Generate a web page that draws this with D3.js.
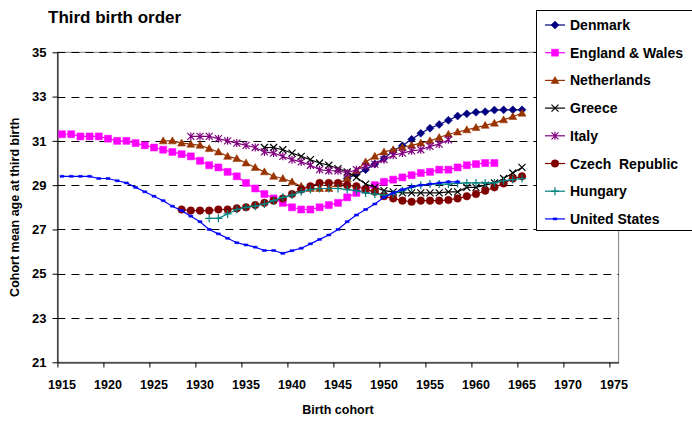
<!DOCTYPE html>
<html><head><meta charset="utf-8">
<script src="https://cdn.jsdelivr.net/npm/d3@7/dist/d3.min.js"></script>
<style>
body{margin:0;background:#fff}
text{font-family:"Liberation Sans",Arial,sans-serif;font-weight:bold;fill:#000}
</style>
</head><body>
<svg id="c" width="692" height="421"></svg>
<script>
// ---------- data ----------
const title = "Third birth order";
const xTitle = "Birth cohort";
const yTitle = "Cohort mean age at third birth";
const yTicks = [21, 23, 25, 27, 29, 31, 33, 35];
const xLabels = [1915, 1920, 1925, 1930, 1935, 1940, 1945, 1950, 1955, 1960, 1965, 1970, 1975];
const seriesNames = ["Denmark", "England & Wales", "Netherlands", "Greece", "Italy", "Czech  Republic", "Hungary", "United States"];
const seriesColors = ["#000080", "#FF00FF", "#993300", "#000000", "#800080", "#800000", "#008080", "#0000FF"];
const seriesMarkers = ["diamond", "square", "triangle", "x", "asterisk", "circle", "plus", "dash"];
const startYears = [1946, 1915, 1926, 1937, 1929, 1928, 1931, 1915];

const denmark = [29.3, 29.5, 29.7, 29.95, 30.2, 30.55, 30.78, 31.07, 31.34, 31.57, 31.74, 31.93, 32.12, 32.22, 32.29, 32.32, 32.39, 32.4, 32.4, 32.4];
const englandWales = [31.3, 31.3, 31.2, 31.2, 31.2, 31.1, 31.0, 31.0, 30.9, 30.8, 30.7, 30.6, 30.5, 30.4, 30.3, 30.1, 29.9, 29.8, 29.6, 29.4, 29.1, 28.85, 28.6, 28.4, 28.2, 28.0, 27.9, 27.9, 28.0, 28.1, 28.2, 28.45, 28.65, 28.8, 29.0, 29.15, 29.25, 29.35, 29.45, 29.55, 29.6, 29.7, 29.7, 29.8, 29.9, 29.95, 30.0, 30.0];
const netherlands = [31.0, 31.0, 30.9, 30.85, 30.8, 30.65, 30.5, 30.3, 30.2, 30.0, 29.8, 29.6, 29.4, 29.3, 29.15, 28.95, 28.85, 28.85, 28.85, 29.05, 29.3, 29.65, 30.05, 30.3, 30.5, 30.6, 30.7, 30.8, 30.9, 31.0, 31.15, 31.3, 31.4, 31.5, 31.6, 31.7, 31.8, 31.95, 32.1, 32.25];
const greece = [30.7, 30.7, 30.6, 30.45, 30.3, 30.15, 30.0, 29.9, 29.75, 29.6, 29.35, 29.05, 28.9, 28.75, 28.7, 28.65, 28.65, 28.65, 28.65, 28.65, 28.7, 28.7, 28.9, 28.9, 29.0, 29.1, 29.3, 29.55, 29.8];
const italy = [31.2, 31.2, 31.2, 31.1, 31.0, 30.9, 30.8, 30.7, 30.5, 30.45, 30.3, 30.15, 30.05, 29.9, 29.7, 29.65, 29.65, 29.55, 29.7, 29.85, 29.95, 30.15, 30.35, 30.45, 30.55, 30.6, 30.75, 30.85, 31.05];
const czech = [27.9, 27.85, 27.85, 27.85, 27.9, 27.9, 27.95, 28.0, 28.1, 28.2, 28.3, 28.4, 28.6, 28.8, 28.95, 29.1, 29.1, 29.1, 29.0, 28.95, 28.8, 28.7, 28.5, 28.4, 28.3, 28.25, 28.3, 28.3, 28.3, 28.33, 28.4, 28.5, 28.6, 28.75, 28.9, 29.08, 29.3, 29.4];
const hungary = [27.5, 27.5, 27.7, 27.9, 28.0, 28.05, 28.15, 28.3, 28.45, 28.55, 28.7, 28.8, 28.85, 28.85, 28.85, 28.8, 28.75, 28.65, 28.6, 28.55, 28.6, 28.75, 28.9, 29.0, 29.05, 29.05, 29.05, 29.08, 29.1, 29.1, 29.1, 29.1, 29.2, 29.25, 29.3];
const unitedStates = [29.4, 29.4, 29.4, 29.4, 29.3, 29.3, 29.2, 29.1, 28.9, 28.7, 28.5, 28.3, 28.05, 27.85, 27.6, 27.35, 27.0, 26.8, 26.6, 26.4, 26.3, 26.2, 26.05, 26.05, 25.92, 26.04, 26.15, 26.35, 26.55, 26.75, 27.0, 27.35, 27.65, 27.9, 28.15, 28.45, 28.65, 28.8, 28.93, 29.0, 29.05, 29.1, 29.15, 29.15];
const seriesValues = [denmark, englandWales, netherlands, greece, italy, czech, hungary, unitedStates];

// ---------- layout ----------
const svg = d3.select("#c");
const pLeft = 57.4, pRight = 618.6, pTop = 52.3, pBottom = 362.3;
const x = d3.scaleLinear().domain([1914.5, 1975.5]).range([pLeft, pRight]);
const y = d3.scaleLinear().domain([21, 35]).range([pBottom, pTop]);

// plot area border (grey)
svg.append("rect").attr("x", pLeft).attr("y", pTop).attr("width", pRight - pLeft).attr("height", pBottom - pTop)
  .attr("fill", "none").attr("stroke", "#808080").attr("stroke-width", 1);

// gridlines
svg.append("g").selectAll("line").data(yTicks.filter(d => d > 21)).join("line")
  .attr("x1", pLeft).attr("x2", pRight)
  .attr("y1", d => Math.round(y(d)) + 0.5).attr("y2", d => Math.round(y(d)) + 0.5)
  .attr("stroke", "#000").attr("stroke-width", 1).attr("stroke-dasharray", "8,6");

// axes
const xTickVals = xLabels.map(d => d - 0.5);
const gx = svg.append("g").attr("transform", `translate(0,${Math.round(pBottom) + 0.5})`)
  .call(d3.axisBottom(x).tickValues(xTickVals).tickSize(5).tickSizeOuter(0).tickFormat(""));
gx.select(".domain").attr("stroke", "#000");
svg.append("g").selectAll("text").data(xLabels).join("text")
  .attr("x", d => x(d)).attr("y", 389).attr("text-anchor", "middle")
  .attr("font-size", 12.5).text(d => d);

const gy = svg.append("g").attr("transform", `translate(${Math.round(pLeft) + 0.5},0)`)
  .call(d3.axisLeft(y).tickValues(yTicks).tickSize(5).tickSizeOuter(0).tickPadding(6));
gy.selectAll("text").attr("font-size", 13).attr("font-family", null);
gy.select(".domain").attr("stroke", "#000");

// titles
svg.append("text").attr("x", 48).attr("y", 23).attr("font-size", 17).text(title);
svg.append("text").attr("x", (pLeft + pRight) / 2).attr("y", 414).attr("text-anchor", "middle").attr("font-size", 12.5).text(xTitle);
svg.append("text").attr("transform", `translate(19,${(pTop + pBottom) / 2}) rotate(-90)`)
  .attr("text-anchor", "middle").attr("font-size", 12.5).text(yTitle);

// markers
function markerPath(type) {
  switch (type) {
    case "diamond": return "M0,-4L4,0L0,4L-4,0Z";
    case "square": return "M-3.5,-3.5H3.5V3.5H-3.5Z";
    case "triangle": return "M0,-4L4,3L-4,3Z";
    case "x": return "M-3.5,-3.5L3.5,3.5M3.5,-3.5L-3.5,3.5";
    case "asterisk": return "M-3.5,-3.5L3.5,3.5M3.5,-3.5L-3.5,3.5M0,-4V4";
    case "circle": return "M3.8,0A3.8,3.8 0 1,1 -3.8,0A3.8,3.8 0 1,1 3.8,0Z";
    case "plus": return "M-4,0H4M0,-4V4";
    case "dash": return "M-2,-1H2V1H-2Z";
  }
}
const stroked = { x: true, asterisk: true, plus: true };

const line = d3.line().x(d => x(d.year)).y(d => y(d.v));
seriesNames.forEach((name, i) => {
  const pts = seriesValues[i].map((v, k) => ({ year: startYears[i] + k, v }));
  const g = svg.append("g");
  g.append("path").datum(pts).attr("d", line).attr("fill", "none")
    .attr("stroke", seriesColors[i]).attr("stroke-width", 1.2);
  const mt = seriesMarkers[i];
  g.selectAll("path.m").data(pts).join("path").attr("class", "m")
    .attr("transform", d => `translate(${x(d.year)},${y(d.v)})`)
    .attr("d", markerPath(mt))
    .attr("fill", stroked[mt] ? "none" : seriesColors[i])
    .attr("stroke", seriesColors[i]).attr("stroke-width", stroked[mt] ? 1.2 : 0.5);
});

// legend
const lg = svg.append("g");
lg.append("rect").attr("x", 536.5).attr("y", 10.5).attr("width", 160).attr("height", 220)
  .attr("fill", "#fff").attr("stroke", "#000").attr("stroke-width", 1);
seriesNames.forEach((name, i) => {
  const cy = 25 + i * 27.7;
  lg.append("line").attr("x1", 545).attr("x2", 565).attr("y1", cy).attr("y2", cy)
    .attr("stroke", seriesColors[i]).attr("stroke-width", 1.2);
  const mt = seriesMarkers[i];
  lg.append("path").attr("transform", `translate(555,${cy})`).attr("d", markerPath(mt))
    .attr("fill", stroked[mt] ? "none" : seriesColors[i]).attr("stroke", seriesColors[i])
    .attr("stroke-width", stroked[mt] ? 1.2 : 0.5);
  lg.append("text").attr("x", 570).attr("y", cy + 5).attr("font-size", 14)
    .text(name.replace("  ", "\u00a0 "));
});
</script>
</body></html>
